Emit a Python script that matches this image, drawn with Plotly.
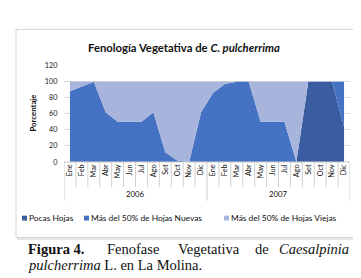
import plotly.graph_objects as go

W, H = 361, 278

# ---------------- data ----------------
months = ["Ene", "Feb", "Mar", "Abr", "May", "Jun", "Jul", "Ago", "Set", "Oct", "Nov", "Dic"]
years = ["2006", "2007"]
categories = [m for _ in years for m in months]

pocas_hojas = [0, 0, 0, 0, 0, 0, 0, 0, 0, 0, 0, 0,
               0, 0, 0, 0, 0, 0, 0, 0, 100, 100, 100, 44]
hojas_nuevas = [88, 94, 100, 62, 50, 50, 50, 62, 12, 2, 0, 62,
                86, 97, 100, 100, 50, 50, 50, 0, 0, 0, 0, 56]
hojas_viejas = [12, 6, 0, 38, 50, 50, 50, 38, 88, 98, 100, 38,
                14, 3, 0, 0, 50, 50, 50, 100, 0, 0, 0, 0]

series_names = ["Pocas Hojas", "Más del 50% de Hojas Nuevas", "Más del 50% de Hojas Viejas"]
series_values = [pocas_hojas, hojas_nuevas, hojas_viejas]
series_colors = ["#3A5DA2", "#4672C4", "#A7B5DC"]

y_ticks = [0, 20, 40, 60, 80, 100, 120]

# ---------------- helpers (pixel -> paper) ----------------
def px(x):
    return x / W

def py(y):
    return 1 - y / H

x_idx = list(range(len(categories)))

fig = go.Figure()
for name, vals, col in zip(series_names, series_values, series_colors):
    fig.add_trace(go.Scatter(
        x=x_idx, y=vals, name=name, mode="lines", stackgroup="one",
        line=dict(width=0, color=col), fillcolor=col, showlegend=False,
        hoverinfo="skip"))

font = "Lato, 'Open Sans', sans-serif"

plot_left, plot_right = 56, 342
plot_top, plot_bottom = 55.4, 155

shapes = []
annotations = []

# chart box
shapes.append(dict(type="rect", xref="paper", yref="paper",
                   x0=px(8), x1=px(350), y0=py(233), y1=py(18),
                   line=dict(color="#D4D4D4", width=1), fillcolor="rgba(0,0,0,0)", layer="below"))
shapes.append(dict(type="line", xref="paper", yref="paper",
                   x0=px(351.5), x1=px(351.5), y0=py(234), y1=py(19),
                   line=dict(color="#E6E6E6", width=2)))
shapes.append(dict(type="line", xref="paper", yref="paper",
                   x0=px(9), x1=px(352), y0=py(234.5), y1=py(234.5),
                   line=dict(color="#E6E6E6", width=2)))

# category separators
n = len(categories)
for i in range(n + 1):
    is_group = (i % len(months) == 0)
    shapes.append(dict(type="line", xref="x", yref="paper",
                       x0=i - 0.5, x1=i - 0.5, y0=py(plot_bottom), y1=py(195 if is_group else 181),
                       line=dict(color="#D0D0D0", width=1)))
# axis baseline
shapes.append(dict(type="line", xref="paper", yref="paper",
                   x0=px(plot_left), x1=px(plot_right), y0=py(plot_bottom), y1=py(plot_bottom),
                   line=dict(color="#C8C8C8", width=1)))

# year labels
for k, yr in enumerate(years):
    center = k * len(months) + (len(months) - 1) / 2
    annotations.append(dict(x=center, xref="x", y=py(188), yref="paper", text=yr,
                            showarrow=False, font=dict(family=font, size=7.8, color="#111"),
                            xanchor="center", yanchor="middle"))

# title
annotations.append(dict(x=px(176), y=py(37), xref="paper", yref="paper",
                        text="<b>Fenología Vegetativa de <i>C. pulcherrima</i></b>",
                        showarrow=False, font=dict(family=font, size=11.3, color="#111"),
                        xanchor="center", yanchor="middle"))

# y-axis title
annotations.append(dict(x=px(25), y=py(105), xref="paper", yref="paper",
                        text="<b>Porcentaje</b>", textangle=-90,
                        showarrow=False, font=dict(family=font, size=7.8, color="#111"),
                        xanchor="center", yanchor="middle"))

# legend (manual)
leg_y = 213
leg_items = [(14, 19), (76, 81), (216, 221)]
for (sx, tx), name, col in zip(leg_items, series_names, series_colors):
    shapes.append(dict(type="rect", xref="paper", yref="paper",
                       x0=px(sx), x1=px(sx + 5), y0=py(leg_y + 2.5), y1=py(leg_y - 2.5),
                       fillcolor=col, line=dict(width=0)))
    annotations.append(dict(x=px(tx), y=py(leg_y), xref="paper", yref="paper", text=name,
                            showarrow=False, font=dict(family=font, size=8.4, color="#111"),
                            xanchor="left", yanchor="middle"))

# caption
serif = "'Liberation Serif', 'Times New Roman', serif"
cap_font = dict(family=serif, size=14.5, color="#111")
cap1 = [("<b>Figura 4.</b>", 18, "left"), ("Fenofase", 97, "left"), ("Vegetativa", 168, "left"),
        ("de", 245, "left"), ("<i>Caesalpinia</i>", 343, "right")]
for txt, x, anc in cap1:
    annotations.append(dict(x=px(x), y=py(245), xref="paper", yref="paper", text=txt,
                            showarrow=False, font=cap_font, xanchor=anc, yanchor="middle"))
annotations.append(dict(x=px(18), y=py(261), xref="paper", yref="paper",
                        text="<i>pulcherrima</i> L. en La Molina.",
                        showarrow=False, font=cap_font, xanchor="left", yanchor="middle"))

fig.update_layout(
    width=W, height=H,
    margin=dict(l=0, r=0, t=0, b=0),
    paper_bgcolor="white", plot_bgcolor="white",
    showlegend=False,
    shapes=shapes, annotations=annotations,
    xaxis=dict(domain=[px(plot_left), px(plot_right)], range=[-0.5, n - 0.5],
               tickmode="array", tickvals=x_idx, ticktext=categories, tickangle=-90,
               tickfont=dict(family=font, size=7.3, color="#111"),
               showgrid=False, zeroline=False, showline=False, ticks="", fixedrange=True),
    yaxis=dict(domain=[py(plot_bottom), py(plot_top)], range=[0, 120],
               tickmode="array", tickvals=y_ticks,
               tickfont=dict(family=font, size=7.3, color="#222"),
               showgrid=True, gridcolor="#D9D9D9", gridwidth=1,
               zeroline=False, showline=False,
               ticks="outside", ticklen=4, tickcolor="rgba(0,0,0,0)", fixedrange=True),
)

fig.write_html("out.html")
